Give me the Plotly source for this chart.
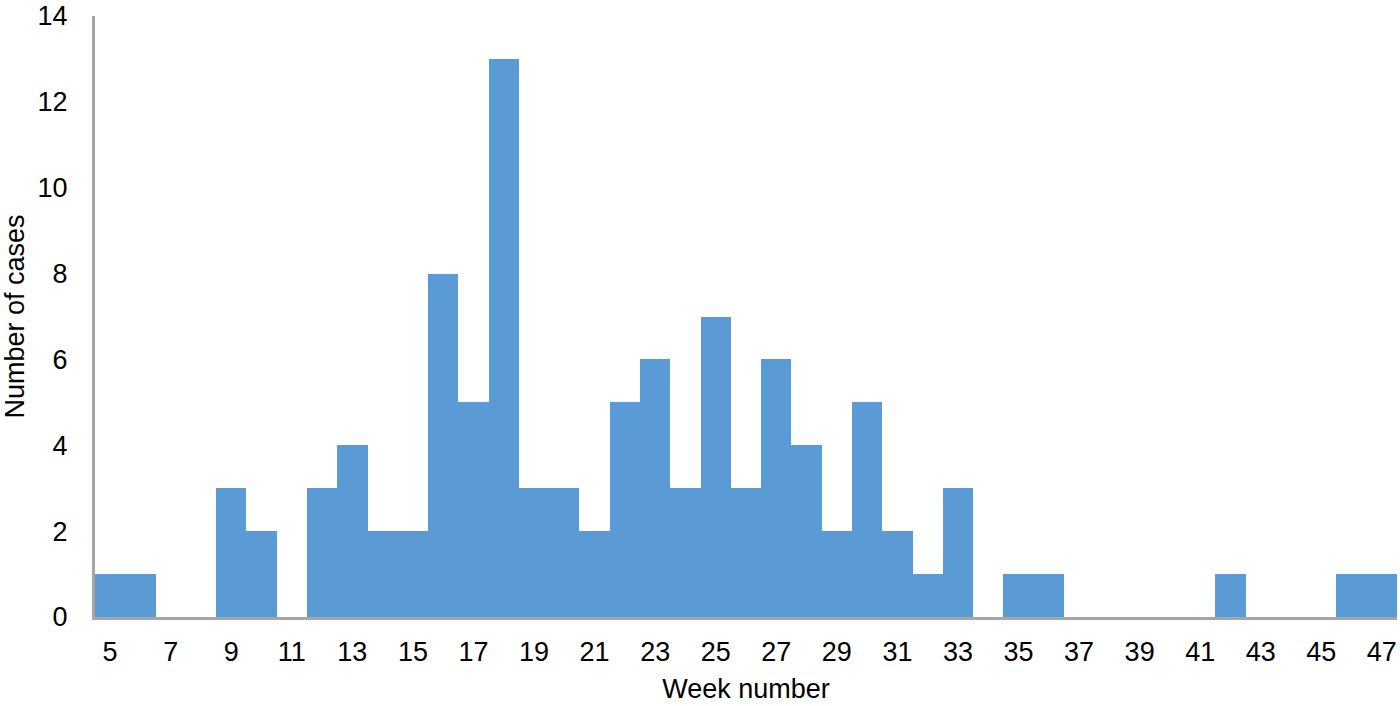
import plotly.graph_objects as go

weeks = list(range(5, 48))
cases = [1, 1, 0, 0, 3, 2, 0, 3, 4, 2, 2, 8, 5, 13, 3, 3, 2, 5, 6, 3, 7, 3, 6, 4, 2, 5, 2, 1, 3, 0,
         1, 1, 0, 0, 0, 0, 0, 1, 0, 0, 0, 1, 1]
x_ticks = list(range(5, 48, 2))
y_ticks = list(range(0, 15, 2))

FONT = "Liberation Sans, Arial, sans-serif"

fig = go.Figure(go.Bar(
    x=weeks, y=cases,
    marker=dict(color="#5b9bd5", line=dict(width=0)),
))

fig.update_layout(
    width=1400, height=706,
    margin=dict(l=95, r=3, t=16, b=89),
    plot_bgcolor="white", paper_bgcolor="white",
    bargap=0,
    showlegend=False,
    font=dict(family=FONT, size=27, color="black"),
)
fig.update_xaxes(
    range=[4.5, 47.5], tickvals=x_ticks, ticktext=[str(v) for v in x_ticks],
    showgrid=False, zeroline=False, automargin=False,
    showline=True, linecolor="#a6a6a6", linewidth=3,
    ticks="outside", ticklen=9, tickcolor="rgba(0,0,0,0)",
    tickfont=dict(size=27),
    title=dict(text="Week number", font=dict(size=27), standoff=13),
)
fig.update_yaxes(
    range=[0, 14], tickvals=y_ticks,
    showgrid=False, zeroline=False, automargin=False,
    showline=True, linecolor="#a6a6a6", linewidth=3,
    ticks="outside", ticklen=19, tickcolor="rgba(0,0,0,0)",
    tickfont=dict(size=27),
    title=dict(text="Number of cases", font=dict(size=27), standoff=6),
)

fig.write_html("out.html", config={"displayModeBar": False},
               post_script="document.body.style.margin='0';document.body.style.overflow='hidden';")
